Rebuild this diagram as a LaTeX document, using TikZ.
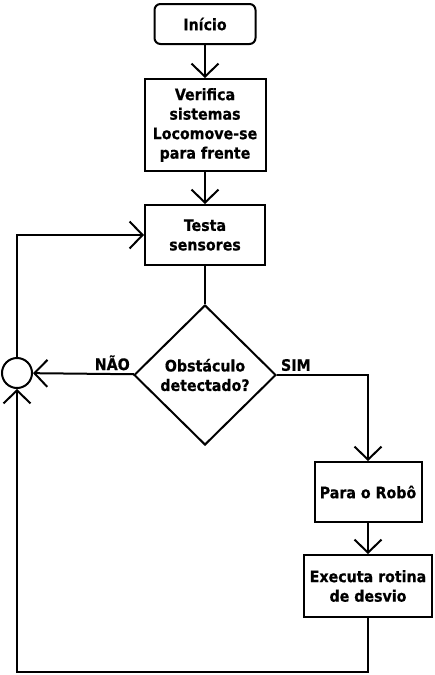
\documentclass[tikz,border=0pt]{standalone}
\usepackage{fontspec}
\setmainfont{DejaVu Sans Condensed}[BoldFeatures={FakeBold=0.6}]
\usetikzlibrary{arrows.meta,shapes.geometric}
\tikzset{
  caixa/.style={draw,line width=2pt,align=center,inner sep=2pt},
  inicio/.style={caixa,rounded corners=6pt},
  decisao/.style={draw,line width=2pt,diamond,aspect=1,inner sep=0pt,align=center,
    minimum width=142pt,minimum height=140pt},
  juncao/.style={draw,line width=2pt,circle,minimum size=30pt,inner sep=0pt},
  seta/.style={-{Straight Barb[length=13pt,width=27pt]}},
  rotulo/.style={inner sep=3pt}
}
\begin{document}
\begin{tikzpicture}[x=1pt,y=-1pt,line width=2pt,
    font=\fontsize{15.8}{19.5}\selectfont\bfseries]
      \useasboundingbox (0,0) rectangle (434,675);
      \draw
        (205,24) node[inicio,minimum width=101pt,minimum height=40pt] (inicio){Início}
        (205,125) node[caixa,minimum width=121pt,minimum height=92pt] (verifica){Verifica\\sistemas\\Locomove-se\\para frente}
        (205,235) node[caixa,minimum width=120pt,minimum height=60pt] (testa){Testa\\sensores}
        (205,375) node[decisao] (obst){Obstáculo\\detectado?}
        (17,373) node[juncao] (juncao){}
        (368,492) node[caixa,minimum width=107pt,minimum height=60pt] (para){Para o Robô}
        (368,586) node[caixa,minimum width=128pt,minimum height=62pt] (executa){Executa rotina\\de desvio};
      \coordinate (canto) at (17,672);
      \begin{scope}[seta]
        \draw (inicio) to (verifica);
        \draw (verifica) to (testa);
        \draw (para) to (executa);
        \draw (obst) to node[rotulo,pos=0,above left] (nao){NÃO} (juncao);
        \draw (obst) -| node[rotulo,pos=0,above right] (sim){SIM} (para);
        \draw (juncao) |- (testa);
        \draw (executa.south) |- (canto) -- (juncao);
      \end{scope}
      \draw (testa) to (obst);
    \end{tikzpicture}
\end{document}
